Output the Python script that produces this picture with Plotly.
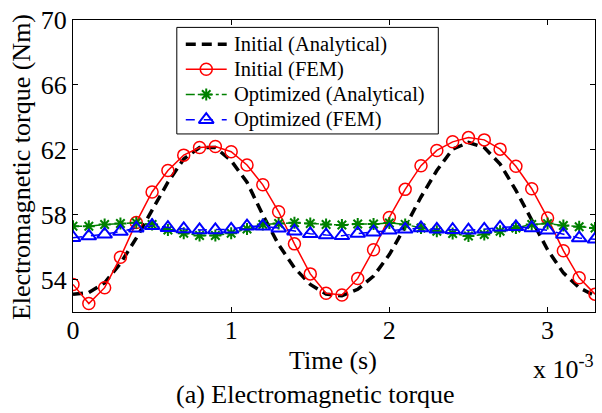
import plotly.graph_objects as go

# Time axis in units of 1e-3 s
time_ms = [0.0, 0.1, 0.2, 0.3, 0.4, 0.5, 0.6, 0.7, 0.8, 0.9, 1.0, 1.1, 1.2, 1.3, 1.4, 1.5, 1.6,
           1.7, 1.8, 1.9, 2.0, 2.1, 2.2, 2.3, 2.4, 2.5, 2.6, 2.7, 2.8, 2.9, 3.0, 3.1, 3.2, 3.3]

initial_analytical = [53.10, 53.20, 53.80, 55.00, 56.55, 58.28, 60.00, 61.43, 62.14, 62.14,
                      61.33, 60.00, 57.98, 56.15, 54.72, 53.70, 53.10, 53.00, 53.40, 54.21,
                      55.54, 57.26, 59.09, 60.72, 62.04, 62.45, 62.14, 61.12, 59.50, 57.67,
                      55.84, 54.41, 53.50, 53.00]

initial_fem = [53.70, 52.52, 53.50, 55.37, 57.52, 59.40, 60.72, 61.67, 62.14, 62.20,
               61.88, 61.06, 59.84, 58.18, 56.20, 54.35, 53.16, 53.05, 54.07, 55.84,
               57.83, 59.56, 61.02, 61.96, 62.49, 62.75, 62.61, 62.04, 60.98, 59.60,
               57.80, 55.78, 54.11, 53.10]

optimized_analytical = [57.29, 57.29, 57.39, 57.46, 57.50, 57.39, 57.06, 56.85, 56.72, 56.72,
                        56.85, 57.12, 57.39, 57.46, 57.50, 57.46, 57.39, 57.36, 57.42, 57.42,
                        57.49, 57.40, 57.18, 56.98, 56.84, 56.68, 56.78, 56.98, 57.18, 57.39,
                        57.45, 57.33, 57.26, 57.18]

optimized_fem = [56.58, 56.68, 56.79, 56.96, 57.17, 57.32, 57.20, 57.12, 57.06, 57.06,
                 57.10, 57.29, 57.29, 57.17, 56.98, 56.82, 56.74, 56.70, 56.84, 56.92,
                 57.04, 57.10, 57.18, 57.10, 57.07, 57.04, 57.10, 57.22, 57.25, 57.18,
                 57.04, 56.78, 56.56, 56.48]

series_names = ["Initial (Analytical)", "Initial (FEM)", "Optimized (Analytical)", "Optimized (FEM)"]
y_ticks = [54, 58, 62, 66, 70]
x_ticks = [0, 1, 2, 3]

FONT = "Liberation Serif, Times New Roman, serif"
W, H = 602, 413
M_L, M_R, M_T, M_B = 73, 6, 16, 101
PLOT_W = W - M_L - M_R
PLOT_H = H - M_T - M_B

styles = [
    dict(mode="lines",
         line=dict(color="black", width=3.5, dash="10px,6px")),
    dict(mode="lines+markers",
         line=dict(color="#ff0000", width=1.5),
         marker=dict(symbol="circle-open", size=12, color="#ff0000", line=dict(width=1.5))),
    dict(mode="lines+markers",
         line=dict(color="#008000", width=1.5, dash="dashdot"),
         marker=dict(symbol="asterisk-open", size=10, color="#008000", line=dict(width=2, color="#008000"))),
    dict(mode="lines+markers",
         line=dict(color="#0000ff", width=1.5, dash="dash"),
         marker=dict(symbol="triangle-up-open", size=13, color="#0000ff", line=dict(width=2))),
]

fig = go.Figure()

series = [initial_analytical, initial_fem, optimized_analytical, optimized_fem]
for name, values, st in zip(series_names, series, styles):
    fig.add_trace(go.Scatter(x=time_ms, y=values, name=name, showlegend=False, **st))

# Legend panel drawn on an overlay axis measured in pixels of the plot area
box_x0, box_x1, box_y0, box_y1 = 177, 439, 23.5, 131.5
fig.add_trace(go.Scatter(
    x=[box_x0, box_x1, box_x1, box_x0, box_x0], y=[box_y0, box_y0, box_y1, box_y1, box_y0],
    xaxis="x2", yaxis="y2", mode="lines", fill="toself", fillcolor="white",
    line=dict(color="black", width=1), showlegend=False, hoverinfo="skip",
))
row_y = [40.5, 66, 91.5, 117]
for name, st, ry in zip(series_names, styles, row_y):
    fig.add_trace(go.Scatter(x=[186, 227], y=[ry, ry], xaxis="x2", yaxis="y2", mode="lines",
                             line=st["line"], showlegend=False, hoverinfo="skip"))
    if "marker" in st:
        fig.add_trace(go.Scatter(x=[206.5], y=[ry], xaxis="x2", yaxis="y2", mode="markers",
                                 marker=st["marker"], showlegend=False, hoverinfo="skip"))
    fig.add_annotation(text=name, xref="x2", yref="y2", x=232, y=ry, xanchor="left", yanchor="middle",
                       showarrow=False, font=dict(family=FONT, size=20.5, color="black"))

axis_common = dict(
    showline=True, linecolor="black", linewidth=1, mirror="ticks",
    ticks="inside", ticklen=5, tickcolor="black", tickwidth=1,
    showgrid=False, zeroline=False,
    tickfont=dict(family=FONT, size=26, color="black"),
)

fig.update_xaxes(range=[0, 3.3], tickvals=x_ticks, ticktext=[str(v) for v in x_ticks],
                 ticklabelstandoff=-5, **axis_common)
fig.update_yaxes(range=[52, 70], tickvals=y_ticks, ticktext=[str(v) for v in y_ticks], **axis_common)

def px_to_paper_y(py):
    return (H - M_B - py) / PLOT_H

def px_to_paper_x(px):
    return (px - M_L) / PLOT_W

fig.add_annotation(text="Time (s)", xref="paper", yref="paper", x=px_to_paper_x(333), y=px_to_paper_y(361),
                   xanchor="center", yanchor="middle", showarrow=False,
                   font=dict(family=FONT, size=26, color="black"))
fig.add_annotation(text="Electromagnetic torque (Nm)", xref="paper", yref="paper",
                   x=px_to_paper_x(22), y=px_to_paper_y(165), textangle=-90,
                   xanchor="center", yanchor="middle", showarrow=False,
                   font=dict(family=FONT, size=26, color="black"))
fig.add_annotation(text="x 10<sup>-3</sup>", xref="paper", yref="paper", x=px_to_paper_x(597),
                   y=px_to_paper_y(368), xanchor="right", yanchor="middle", showarrow=False,
                   font=dict(family=FONT, size=26, color="black"))
fig.add_annotation(text="(a) Electromagnetic torque", xref="paper", yref="paper",
                   x=px_to_paper_x(316), y=px_to_paper_y(396),
                   xanchor="center", yanchor="middle", showarrow=False,
                   font=dict(family=FONT, size=26, color="black"))

fig.update_layout(
    width=W, height=H,
    margin=dict(l=M_L, r=M_R, t=M_T, b=M_B),
    paper_bgcolor="white", plot_bgcolor="white",
    showlegend=False,
    xaxis2=dict(overlaying="x", range=[M_L, W - M_R], visible=False, fixedrange=True),
    yaxis2=dict(overlaying="y", range=[H - M_B, M_T], visible=False, fixedrange=True),
)

fig.write_html("out.html")
